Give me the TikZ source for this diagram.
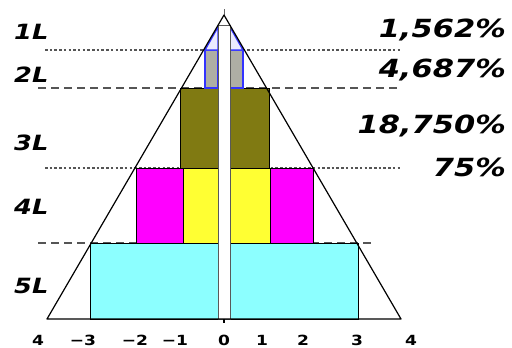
\documentclass[tikz,border=0pt]{standalone}
\usepackage{fontspec}
\newfontfamily\lblfont[FakeStretch=1.22]{DejaVu Sans}
\usetikzlibrary{calc}
\definecolor{skyfill}{HTML}{8CFFFF}
\definecolor{magfill}{HTML}{FF00FF}
\definecolor{yelfill}{HTML}{FFFF33}
\definecolor{olvfill}{HTML}{807A12}
\definecolor{grayfill}{HTML}{AEAEA4}
\definecolor{bluefill}{HTML}{3333FF}
\definecolor{guide}{HTML}{555555}
\tikzset{
  pyr/.style={draw=black,line width=1.2pt,line join=round},
  blk/.style={draw=black,line width=0.9pt},
  bblk/.style={draw=bluefill,line width=1.4pt},
  dotln/.style={draw=guide,line width=1.3pt,dash pattern=on 2.5pt off 2.2pt},
  dashln/.style={draw=guide,line width=1.3pt,dash pattern=on 8pt off 5pt},
  lvl/.style={font=\lblfont\bfseries\itshape\fontsize{21}{21}\selectfont,
    anchor=west,inner sep=0pt},
  pct/.style={font=\lblfont\bfseries\itshape\fontsize{25}{25}\selectfont,
    anchor=east,inner sep=0pt},
  tick/.style={font=\lblfont\bfseries\fontsize{14}{14}\selectfont,
    inner sep=0pt,text depth=0pt,anchor=base},
}

\begin{document}
\begin{tikzpicture}[x=1pt,y=-1pt]
\useasboundingbox (0,0) rectangle (512,348);

\coordinate (apex) at (224,15);
\coordinate (bl) at (47,319);
\coordinate (br) at (401,319);

% level guides
\draw[dotln] (45,50) -- (400,50);
\draw[dashln] (38,88) -- (400,88);
\draw[dotln] (45,168) -- (400,168);
\draw[dashln] (38,243) -- (373,243);

% layer 5
\filldraw[blk,fill=skyfill] (90,243) rectangle (218,319);
\filldraw[blk,fill=skyfill] (230,243) rectangle (358,319);
% layer 4
\filldraw[blk,fill=magfill] (136,168) rectangle (183,243);
\filldraw[blk,fill=yelfill] (183,168) rectangle (218,243);
\filldraw[blk,fill=yelfill] (230,168) rectangle (270,243);
\filldraw[blk,fill=magfill] (270,168) rectangle (313,243);
% layer 3
\filldraw[blk,fill=olvfill] (180,88) rectangle (218,168);
\filldraw[blk,fill=olvfill] (230,88) rectangle (269,168);
% layer 2
\filldraw[bblk,fill=grayfill] (205,50) rectangle (218,88);
\filldraw[bblk,fill=grayfill] (230,50) rectangle (243,88);
% layer 1
\filldraw[bblk,fill=bluefill!10] (205,50) -- (218,50) -- (218,27) -- cycle;
\filldraw[bblk,fill=bluefill!10] (243,50) -- (230,50) -- (230,27) -- cycle;

% centre strip
\filldraw[draw=black!65,line width=0.8pt,fill=white] (218,25) rectangle (230,319);
\draw[black!60,line width=0.8pt] (224,9) -- (apex);
\draw[black,line width=1.2pt] (224,319) -- (224,323);

% pyramid
\draw[pyr] (bl) -- (apex) -- (br) -- cycle;

% labels
\node[lvl] (l1) at (14,32) {1L};
\node[lvl] (l2) at (14,75) {2L};
\node[lvl] (l3) at (14,143) {3L};
\node[lvl] (l4) at (14,207) {4L};
\node[lvl] (l5) at (14,286) {5L};

\node[pct] (p1) at (506,30) {1,562\%};
\node[pct] (p2) at (506,70) {4,687\%};
\node[pct] (p3) at (506,126) {18,750\%};
\node[pct] (p4) at (506,167) {75\%};

\foreach \xx/\txt [count=\i] in {38/4,83/−3,135/−2,175/−1,224/0,262/1,303/2,357/3,411/4}
  \node[tick] (t\i) at (\xx,345) {\txt};
\end{tikzpicture}
\end{document}
